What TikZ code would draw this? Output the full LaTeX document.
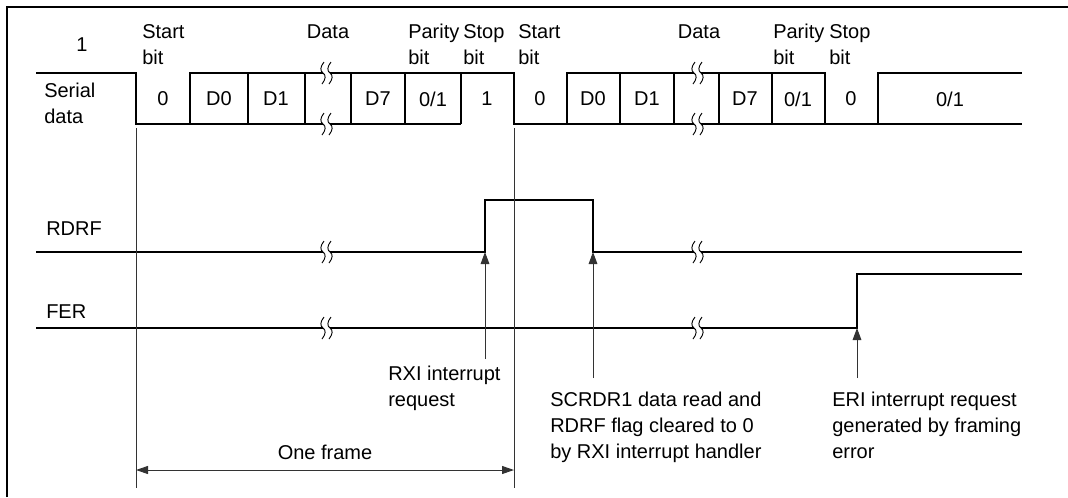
\documentclass[tikz,border=0pt]{standalone}
\usepackage{fontspec}
\setmainfont{Liberation Sans}
\usetikzlibrary{arrows.meta}
\begin{document}
\begin{tikzpicture}[x=.75pt,y=-.75pt,
  every node/.style={font=\fontsize{15}{19.5}\selectfont,inner sep=0pt},
  sig/.style={line width=1.5pt},
  guide/.style={line width=.75pt,black!80},
  ptr/.style={guide,-{Triangle[length=9pt,width=6.5pt]}},
  span/.style={guide,{Triangle[length=9pt,width=6pt]}-{Triangle[length=9pt,width=6pt]}}]
\useasboundingbox (0,0) rectangle (1068,497);
\draw[line width=2.2pt] (7,497) -- (7,7) -- (1068,7);
\draw[sig] (36,73) -- (136,73) -- (136,124) -- (461,124);
\draw[sig] (190,124) -- (190,73) -- (514,73) -- (514,124) -- (1022,124);
\draw[sig] (567,124) -- (567,73) -- (825,73) -- (825,124);
\draw[sig] (878,124) -- (878,73) -- (1022,73);
\foreach \x in {248,305,351,405,461,620,674,719,772}
  \draw[sig] (\x,73) -- (\x,124);
\foreach \x/\t [count=\n] in {163/0,219/D0,276/D1,378/D7,433/{0/1},487/1,540/0,593/D0,647/D1,745/D7,798/{0/1},851/0,950/{0/1}}
  \node (bit\n) at (\x,99) {\t};
\node (one) at (82,45) {1};
\node[anchor=north west,align=left] (serial) at (44,83) {Serial\\data};
\foreach \x/\t [count=\n] in {142/{Start\\bit},408/{Parity\\bit},463/{Stop\\bit},518/{Start\\bit},773/{Parity\\bit},829/{Stop\\bit}}
  \node[anchor=north west,align=left] (lbl\n) at (\x,24) {\t};
\node (data1) at (328,32) {Data};
\node (data2) at (699,32) {Data};
\draw[sig] (36,252) -- (485,252) -- (485,200) -- (593,200) -- (593,252) -- (1022,252);
\draw[sig] (36,328) -- (857,328) -- (857,274) -- (1022,274);
\node[anchor=base west] (rdrf) at (46,235) {RDRF};
\node[anchor=base west] (fer) at (46,318) {FER};
\foreach \bx in {326,697}
  \foreach \by in {73,124,252,328}{
    \fill[white] (\bx-3,\by-2.5) rectangle (\bx+4,\by+2.5);
    \foreach \dx in {-3,4}
      \draw[line width=.7pt] (\bx+\dx+1,\by-11) .. controls (\bx+\dx-3,\by-6) and (\bx+\dx-3,\by-2) .. (\bx+\dx,\by) .. controls (\bx+\dx+3,\by+2) and (\bx+\dx+3,\by+6) .. (\bx+\dx-1,\by+11);
  }
\draw[guide] (136,128) -- (136,488);
\draw[guide] (514,128) -- (514,488);
\coordinate (rxiup) at (485,252);
\coordinate (rxilow) at (485,359);
\coordinate (clrup) at (593,252);
\coordinate (clrlow) at (593,378);
\coordinate (eriup) at (857,328);
\coordinate (erilow) at (857,378);
\draw[ptr] (rxilow) -- (rxiup);
\draw[ptr] (clrlow) -- (clrup);
\draw[ptr] (erilow) -- (eriup);
\node[anchor=north west,align=left] (rxi) at (388,366) {RXI interrupt\\request};
\node[anchor=north west,align=left] (clr) at (550,392) {SCRDR1 data read and\\RDRF flag cleared to 0\\by RXI interrupt handler};
\node[anchor=north west,align=left] (eri) at (832,392) {ERI interrupt request\\generated by framing\\error};
\coordinate (fl) at (136,470);
\coordinate (fr) at (514,470);
\draw[span] (fl) -- (fr);
\node (frame) at (325,452) {One frame};
\end{tikzpicture}
\end{document}
